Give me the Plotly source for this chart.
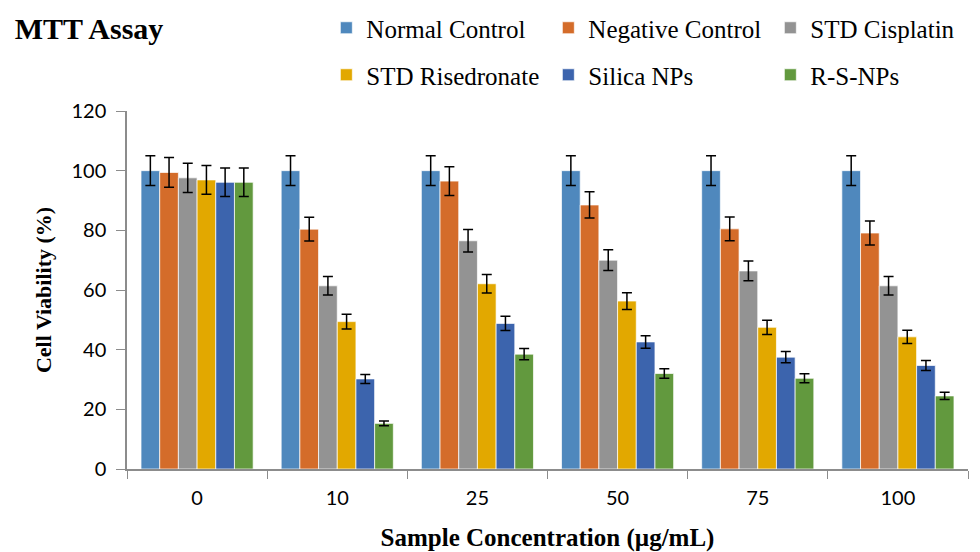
import plotly.graph_objects as go

categories = ["0", "10", "25", "50", "75", "100"]
series_names = ["Normal Control", "Negative Control", "STD Cisplatin",
                "STD Risedronate", "Silica NPs", "R-S-NPs"]
normal_control = [100, 100, 100, 100, 100, 100]
negative_control = [99.4, 80.4, 96.5, 88.5, 80.5, 79.1]
std_cisplatin = [97.6, 61.4, 76.5, 70.0, 66.4, 61.4]
std_risedronate = [96.9, 49.4, 62.1, 56.3, 47.5, 44.3]
silica_nps = [96.1, 30.2, 48.8, 42.6, 37.5, 34.7]
rs_nps = [96.1, 15.3, 38.5, 32.0, 30.4, 24.5]

err_normal = [5.0, 5.0, 5.0, 5.0, 5.0, 5.0]
err_negative = [5.0, 4.0, 4.8, 4.4, 4.0, 4.0]
err_cisplatin = [4.9, 3.1, 3.8, 3.5, 3.3, 3.1]
err_risedronate = [4.8, 2.5, 3.1, 2.8, 2.4, 2.2]
err_silica = [4.8, 1.5, 2.4, 2.1, 1.9, 1.7]
err_rs = [4.8, 0.8, 1.9, 1.6, 1.5, 1.2]

colors = ["#4F88BD", "#D46C2A", "#939393", "#E2A800", "#3C64AD", "#62993E"]
legend_ids = ["legend", "legend", "legend", "legend2", "legend2", "legend2"]

values = [normal_control, negative_control, std_cisplatin,
          std_risedronate, silica_nps, rs_nps]
errors = [err_normal, err_negative, err_cisplatin,
          err_risedronate, err_silica, err_rs]

serif = "Liberation Serif"
sans = "Lato"

fig = go.Figure()
for name, vals, errs, col, lg in zip(series_names, values, errors, colors, legend_ids):
    fig.add_trace(go.Bar(
        x=categories, y=vals, name=name, legend=lg,
        marker=dict(color=col, line=dict(color="rgba(255,255,255,0.7)", width=1)),
        error_y=dict(type="data", array=errs, visible=True,
                     color="black", thickness=1.5, width=5),
    ))

legend_common = dict(orientation="h", xref="container", yref="container",
                      xanchor="left", yanchor="middle",
                      entrywidth=177, entrywidthmode="pixels",
                      font=dict(family=serif, size=25, color="black"),
                      traceorder="normal", bgcolor="rgba(0,0,0,0)")

fig.update_layout(
    width=980, height=552,
    margin=dict(l=127, r=12, t=111, b=83, autoexpand=False),
    paper_bgcolor="white", plot_bgcolor="white",
    barmode="group", bargap=0.2, bargroupgap=0,
    title=dict(text="<b>MTT Assay</b>", x=0.015, xanchor="left",
               y=1 - 28 / 552, yanchor="middle",
               font=dict(family=serif, size=30, color="black")),
    legend=dict(x=0.333, y=1 - 28 / 552, **legend_common),
    legend2=dict(x=0.333, y=1 - 75 / 552, **legend_common),
    xaxis=dict(
        type="category", showline=True, linecolor="#8c8c8c", linewidth=2,
        ticks="outside", tickson="boundaries", ticklen=8, tickcolor="#8c8c8c",
        tickfont=dict(family=sans, size=20, color="black"),
        ticklabelstandoff=10,
        title=dict(text="<b>Sample Concentration (µg/mL)</b>",
                   font=dict(family=serif, size=25, color="black"), standoff=20),
        showgrid=False,
    ),
    yaxis=dict(
        range=[0, 120], dtick=20, showline=True, linecolor="#8c8c8c", linewidth=1.5,
        ticks="outside", ticklen=9, tickcolor="#8c8c8c",
        tickfont=dict(family=sans, size=20, color="black"),
        ticklabelstandoff=6,
        title=dict(text="<b>Cell Viability (%)</b>",
                   font=dict(family=serif, size=22, color="black"), standoff=14),
        showgrid=False, zeroline=False,
    ),
)

fig.write_html("out.html")
